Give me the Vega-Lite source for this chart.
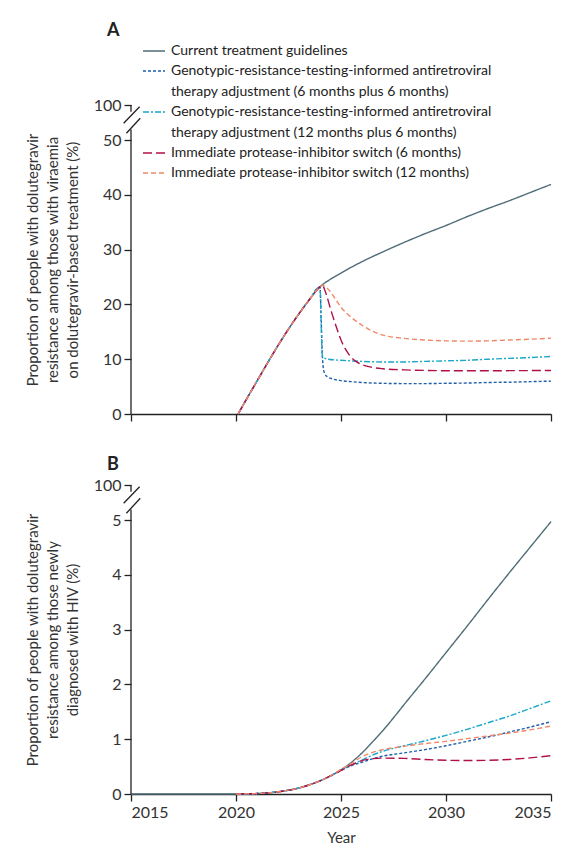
{
  "$schema": "https://vega.github.io/schema/vega-lite/v6.json",
  "padding": {"left": 25, "top": 22, "right": 5, "bottom": 5},
  "background": "white",
  "config": {
    "font": "Lato",
    "view": {"stroke": null},
    "style": {"guide-label": {"lineHeight": 21}, "guide-title": {"lineHeight": 20}},
    "axis": {"grid": false, "tickSize": 7, "tickColor": "#222", "domainColor": "#222", "tickWidth": 1.3, "domainWidth": 1.3, "labelFontSize": 16, "labelColor": "#333", "titleFontSize": 15, "titleFontWeight": "normal", "titleColor": "#333", "labelPadding": 3},
    "title": {"fontSize": 18, "fontWeight": "bold", "color": "#222", "anchor": "start", "frame": "group"}
  },
  "datasets": {
    "names": [
      {"k": "cur", "scenario": "Current treatment guidelines"},
      {"k": "g6", "scenario": "Genotypic-resistance-testing-informed antiretroviral therapy adjustment (6 months plus 6 months)"},
      {"k": "g12", "scenario": "Genotypic-resistance-testing-informed antiretroviral therapy adjustment (12 months plus 6 months)"},
      {"k": "p6", "scenario": "Immediate protease-inhibitor switch (6 months)"},
      {"k": "p12", "scenario": "Immediate protease-inhibitor switch (12 months)"}
    ],
    "a": [
      {"k":"cur","year":2020.1,"value":0},{"k":"cur","year":2020.5,"value":2.7},{"k":"cur","year":2021,"value":6.0},{"k":"cur","year":2021.5,"value":9.3},{"k":"cur","year":2022,"value":12.5},{"k":"cur","year":2022.5,"value":15.5},{"k":"cur","year":2023,"value":18.3},{"k":"cur","year":2023.5,"value":20.9},{"k":"cur","year":2024,"value":23.2},{"k":"cur","year":2024.5,"value":24.6},{"k":"cur","year":2025,"value":25.7},{"k":"cur","year":2025.5,"value":26.8},{"k":"cur","year":2026,"value":27.8},{"k":"cur","year":2027,"value":29.6},{"k":"cur","year":2028,"value":31.3},{"k":"cur","year":2029,"value":32.9},{"k":"cur","year":2030,"value":34.4},{"k":"cur","year":2031,"value":36.0},{"k":"cur","year":2032,"value":37.5},{"k":"cur","year":2033,"value":38.9},{"k":"cur","year":2034,"value":40.4},{"k":"cur","year":2035,"value":41.9},
      {"k":"g6","year":2020.1,"value":0},{"k":"g6","year":2020.5,"value":2.7},{"k":"g6","year":2021,"value":6.0},{"k":"g6","year":2021.5,"value":9.3},{"k":"g6","year":2022,"value":12.5},{"k":"g6","year":2022.5,"value":15.5},{"k":"g6","year":2023,"value":18.3},{"k":"g6","year":2023.5,"value":20.9},{"k":"g6","year":2024,"value":23.2},{"k":"g6","year":2024.05,"value":18},{"k":"g6","year":2024.12,"value":10},{"k":"g6","year":2024.2,"value":7.6},{"k":"g6","year":2024.35,"value":6.8},{"k":"g6","year":2024.6,"value":6.4},{"k":"g6","year":2025,"value":6.1},{"k":"g6","year":2025.5,"value":5.9},{"k":"g6","year":2026,"value":5.75},{"k":"g6","year":2027,"value":5.6},{"k":"g6","year":2028,"value":5.55},{"k":"g6","year":2029,"value":5.55},{"k":"g6","year":2030,"value":5.6},{"k":"g6","year":2031,"value":5.65},{"k":"g6","year":2032,"value":5.75},{"k":"g6","year":2033,"value":5.8},{"k":"g6","year":2034,"value":5.9},{"k":"g6","year":2035,"value":6.0},
      {"k":"g12","year":2020.1,"value":0},{"k":"g12","year":2020.5,"value":2.7},{"k":"g12","year":2021,"value":6.0},{"k":"g12","year":2021.5,"value":9.3},{"k":"g12","year":2022,"value":12.5},{"k":"g12","year":2022.5,"value":15.5},{"k":"g12","year":2023,"value":18.3},{"k":"g12","year":2023.5,"value":20.9},{"k":"g12","year":2024,"value":23.2},{"k":"g12","year":2024.06,"value":16},{"k":"g12","year":2024.1,"value":11},{"k":"g12","year":2024.15,"value":10.3},{"k":"g12","year":2024.4,"value":10.0},{"k":"g12","year":2025,"value":9.8},{"k":"g12","year":2026,"value":9.6},{"k":"g12","year":2027,"value":9.5},{"k":"g12","year":2028,"value":9.5},{"k":"g12","year":2029,"value":9.6},{"k":"g12","year":2030,"value":9.7},{"k":"g12","year":2031,"value":9.8},{"k":"g12","year":2032,"value":10.0},{"k":"g12","year":2033,"value":10.15},{"k":"g12","year":2034,"value":10.3},{"k":"g12","year":2035,"value":10.5},
      {"k":"p6","year":2020.1,"value":0},{"k":"p6","year":2020.5,"value":2.7},{"k":"p6","year":2021,"value":6.0},{"k":"p6","year":2021.5,"value":9.3},{"k":"p6","year":2022,"value":12.5},{"k":"p6","year":2022.5,"value":15.5},{"k":"p6","year":2023,"value":18.3},{"k":"p6","year":2023.5,"value":20.9},{"k":"p6","year":2024,"value":23.2},{"k":"p6","year":2024.1,"value":23.5},{"k":"p6","year":2024.3,"value":21.8},{"k":"p6","year":2024.5,"value":19.2},{"k":"p6","year":2024.75,"value":16.2},{"k":"p6","year":2025,"value":13.5},{"k":"p6","year":2025.25,"value":11.6},{"k":"p6","year":2025.5,"value":10.3},{"k":"p6","year":2025.75,"value":9.5},{"k":"p6","year":2026,"value":9.0},{"k":"p6","year":2026.5,"value":8.5},{"k":"p6","year":2027,"value":8.25},{"k":"p6","year":2028,"value":8.05},{"k":"p6","year":2029,"value":7.95},{"k":"p6","year":2030,"value":7.9},{"k":"p6","year":2032,"value":7.9},{"k":"p6","year":2035,"value":7.95},
      {"k":"p12","year":2020.1,"value":0},{"k":"p12","year":2020.5,"value":2.7},{"k":"p12","year":2021,"value":6.0},{"k":"p12","year":2021.5,"value":9.3},{"k":"p12","year":2022,"value":12.5},{"k":"p12","year":2022.5,"value":15.5},{"k":"p12","year":2023,"value":18.3},{"k":"p12","year":2023.5,"value":20.9},{"k":"p12","year":2024,"value":23.2},{"k":"p12","year":2024.1,"value":23.5},{"k":"p12","year":2024.3,"value":23.1},{"k":"p12","year":2024.5,"value":22.3},{"k":"p12","year":2024.75,"value":20.9},{"k":"p12","year":2025,"value":19.5},{"k":"p12","year":2025.5,"value":17.6},{"k":"p12","year":2026,"value":16.2},{"k":"p12","year":2026.5,"value":15.1},{"k":"p12","year":2027,"value":14.4},{"k":"p12","year":2028,"value":13.8},{"k":"p12","year":2029,"value":13.5},{"k":"p12","year":2030,"value":13.35},{"k":"p12","year":2031,"value":13.3},{"k":"p12","year":2032,"value":13.35},{"k":"p12","year":2033,"value":13.5},{"k":"p12","year":2034,"value":13.65},{"k":"p12","year":2035,"value":13.85}
    ],
    "b": [
      {"k":"cur","year":2015,"value":0},{"k":"cur","year":2020,"value":0},{"k":"cur","year":2020.5,"value":0.002},{"k":"cur","year":2021,"value":0.008},{"k":"cur","year":2021.5,"value":0.02},{"k":"cur","year":2022,"value":0.04},{"k":"cur","year":2022.5,"value":0.07},{"k":"cur","year":2023,"value":0.11},{"k":"cur","year":2023.5,"value":0.17},{"k":"cur","year":2024,"value":0.24},{"k":"cur","year":2024.5,"value":0.33},{"k":"cur","year":2025,"value":0.44},{"k":"cur","year":2025.5,"value":0.58},{"k":"cur","year":2026,"value":0.75},{"k":"cur","year":2026.5,"value":0.95},{"k":"cur","year":2027,"value":1.16},{"k":"cur","year":2027.5,"value":1.39},{"k":"cur","year":2028,"value":1.63},{"k":"cur","year":2029,"value":2.1},{"k":"cur","year":2030,"value":2.58},{"k":"cur","year":2031,"value":3.06},{"k":"cur","year":2032,"value":3.55},{"k":"cur","year":2033,"value":4.03},{"k":"cur","year":2034,"value":4.5},{"k":"cur","year":2035,"value":4.97},
      {"k":"g6","year":2020,"value":0},{"k":"g6","year":2021,"value":0.008},{"k":"g6","year":2022,"value":0.04},{"k":"g6","year":2023,"value":0.11},{"k":"g6","year":2024,"value":0.24},{"k":"g6","year":2024.5,"value":0.33},{"k":"g6","year":2025,"value":0.43},{"k":"g6","year":2025.5,"value":0.52},{"k":"g6","year":2026,"value":0.58},{"k":"g6","year":2026.5,"value":0.64},{"k":"g6","year":2027,"value":0.69},{"k":"g6","year":2028,"value":0.75},{"k":"g6","year":2029,"value":0.81},{"k":"g6","year":2030,"value":0.88},{"k":"g6","year":2031,"value":0.96},{"k":"g6","year":2032,"value":1.04},{"k":"g6","year":2033,"value":1.13},{"k":"g6","year":2034,"value":1.22},{"k":"g6","year":2035,"value":1.32},
      {"k":"g12","year":2020,"value":0},{"k":"g12","year":2021,"value":0.008},{"k":"g12","year":2022,"value":0.04},{"k":"g12","year":2023,"value":0.11},{"k":"g12","year":2024,"value":0.24},{"k":"g12","year":2024.5,"value":0.33},{"k":"g12","year":2025,"value":0.44},{"k":"g12","year":2025.5,"value":0.53},{"k":"g12","year":2026,"value":0.62},{"k":"g12","year":2026.5,"value":0.71},{"k":"g12","year":2027,"value":0.78},{"k":"g12","year":2028,"value":0.88},{"k":"g12","year":2029,"value":0.97},{"k":"g12","year":2030,"value":1.07},{"k":"g12","year":2031,"value":1.18},{"k":"g12","year":2032,"value":1.3},{"k":"g12","year":2033,"value":1.42},{"k":"g12","year":2034,"value":1.56},{"k":"g12","year":2035,"value":1.7},
      {"k":"p6","year":2020,"value":0},{"k":"p6","year":2021,"value":0.008},{"k":"p6","year":2022,"value":0.04},{"k":"p6","year":2023,"value":0.11},{"k":"p6","year":2024,"value":0.24},{"k":"p6","year":2024.5,"value":0.33},{"k":"p6","year":2025,"value":0.43},{"k":"p6","year":2025.5,"value":0.53},{"k":"p6","year":2026,"value":0.61},{"k":"p6","year":2026.5,"value":0.645},{"k":"p6","year":2027,"value":0.655},{"k":"p6","year":2028,"value":0.65},{"k":"p6","year":2029,"value":0.63},{"k":"p6","year":2030,"value":0.615},{"k":"p6","year":2031,"value":0.61},{"k":"p6","year":2032,"value":0.615},{"k":"p6","year":2033,"value":0.63},{"k":"p6","year":2034,"value":0.66},{"k":"p6","year":2035,"value":0.7},
      {"k":"p12","year":2020,"value":0},{"k":"p12","year":2021,"value":0.008},{"k":"p12","year":2022,"value":0.04},{"k":"p12","year":2023,"value":0.11},{"k":"p12","year":2024,"value":0.24},{"k":"p12","year":2024.5,"value":0.33},{"k":"p12","year":2025,"value":0.45},{"k":"p12","year":2025.5,"value":0.56},{"k":"p12","year":2026,"value":0.68},{"k":"p12","year":2026.5,"value":0.76},{"k":"p12","year":2027,"value":0.81},{"k":"p12","year":2028,"value":0.87},{"k":"p12","year":2029,"value":0.92},{"k":"p12","year":2030,"value":0.96},{"k":"p12","year":2031,"value":1.01},{"k":"p12","year":2032,"value":1.06},{"k":"p12","year":2033,"value":1.11},{"k":"p12","year":2034,"value":1.17},{"k":"p12","year":2035,"value":1.24}
    ],
    "brkA": [
      {"year":2015,"value":0,"year2":2015,"value2":65},
      {"year":2015,"value":100,"year2":2015,"value2":90.4},
      {"year":2014.65,"value":73.9,"year2":2015.41,"value2":97.6},
      {"year":2014.78,"value":59.6,"year2":2015.44,"value2":81}
    ],
    "brkB": [
      {"year":2015,"value":0,"year2":2015,"value2":33.5},
      {"year":2015,"value":100,"year2":2015,"value2":81.8},
      {"year":2014.65,"value":50.3,"year2":2015.41,"value2":95.4},
      {"year":2014.78,"value":23.2,"year2":2015.44,"value2":63.9}
    ]
  },
  "bounds": "flush",
  "spacing": 71,
  "resolve": {"scale": {"x": "independent", "y": "independent", "color": "independent", "strokeDash": "independent"}},
  "vconcat": [
    {
      "width": 420,
      "height": 309,
      "title": {"text": "A", "dx": -24, "offset": -1},
      "layer": [
        {
          "data": {"name": "a"},
          "transform": [{"lookup": "k", "from": {"data": {"name": "names"}, "key": "k", "fields": ["scenario"]}}],
          "mark": {"type": "line", "strokeWidth": 1.4, "interpolate": "monotone"},
          "encoding": {
            "x": {"field": "year", "type": "quantitative", "scale": {"domain": [2015, 2035], "nice": false, "zero": false}, "axis": {"values": [2015, 2020, 2025, 2030, 2035], "labels": false, "title": null}},
            "y": {"field": "value", "type": "quantitative", "scale": {"domain": [0, 50, 100], "range": [309, 35, 0], "nice": false}, "axis": {"values": [0, 10, 20, 30, 40, 50, 100], "domain": false, "title": ["Proportion of people with dolutegravir", "resistance among those with viraemia", "on dolutegravir-based treatment (%)"], "titlePadding": 13}},
            "color": {"field": "scenario", "type": "nominal", "scale": {"domain": ["Current treatment guidelines", "Genotypic-resistance-testing-informed antiretroviral therapy adjustment (6 months plus 6 months)", "Genotypic-resistance-testing-informed antiretroviral therapy adjustment (12 months plus 6 months)", "Immediate protease-inhibitor switch (6 months)", "Immediate protease-inhibitor switch (12 months)"], "range": ["#4f6d78", "#1f5ea8", "#1aa7c9", "#b0104a", "#f08868"]},
              "legend": {"orient": "none", "legendX": 11, "legendY": -66, "title": null, "symbolType": "stroke", "symbolSize": 484, "symbolStrokeWidth": 1.5, "labelFontSize": 14, "labelColor": "#222", "labelOffset": 5, "labelLimit": 500, "rowPadding": 1,
                "labelExpr": "indexof(datum.label, ' therapy') > 0 ? [slice(datum.label, 0, indexof(datum.label, ' therapy')), slice(datum.label, indexof(datum.label, ' therapy') + 1)] : datum.label",
                "encoding": {"labels": {"update": {"dy": {"signal": "indexof(datum.label, ' therapy') > 0 ? 10.5 : 0"}}}}}},
            "strokeDash": {"field": "scenario", "type": "nominal", "scale": {"domain": ["Current treatment guidelines", "Genotypic-resistance-testing-informed antiretroviral therapy adjustment (6 months plus 6 months)", "Genotypic-resistance-testing-informed antiretroviral therapy adjustment (12 months plus 6 months)", "Immediate protease-inhibitor switch (6 months)", "Immediate protease-inhibitor switch (12 months)"], "range": [[1, 0], [3, 2], [6, 2, 2, 2], [9, 4], [5, 3]]},
              "legend": {"orient": "none", "legendX": 11, "legendY": -66, "title": null, "symbolType": "stroke", "symbolSize": 484, "symbolStrokeWidth": 1.5, "labelFontSize": 14, "labelColor": "#222", "labelOffset": 5, "labelLimit": 500, "rowPadding": 1,
                "labelExpr": "indexof(datum.label, ' therapy') > 0 ? [slice(datum.label, 0, indexof(datum.label, ' therapy')), slice(datum.label, indexof(datum.label, ' therapy') + 1)] : datum.label",
                "encoding": {"labels": {"update": {"dy": {"signal": "indexof(datum.label, ' therapy') > 0 ? 10.5 : 0"}}}}}}
          }
        },
        {
          "data": {"name": "brkA"},
          "mark": {"type": "rule", "color": "#222", "strokeWidth": 1.3},
          "encoding": {
            "x": {"field": "year", "type": "quantitative"},
            "x2": {"field": "year2"},
            "y": {"field": "value", "type": "quantitative"},
            "y2": {"field": "value2"}
          }
        }
      ]
    },
    {
      "width": 420,
      "height": 309,
      "title": {"text": "B", "dx": -24, "offset": 3},
      "layer": [
        {
          "data": {"name": "b"},
          "transform": [{"lookup": "k", "from": {"data": {"name": "names"}, "key": "k", "fields": ["scenario"]}}],
          "mark": {"type": "line", "strokeWidth": 1.4, "interpolate": "monotone"},
          "encoding": {
            "x": {"field": "year", "type": "quantitative", "scale": {"domain": [2015, 2035], "nice": false, "zero": false}, "axis": {"values": [2015, 2020, 2025, 2030, 2035], "format": "d", "title": "Year", "titlePadding": 10}},
            "y": {"field": "value", "type": "quantitative", "scale": {"domain": [0, 5, 100], "range": [309, 35, 0], "nice": false}, "axis": {"values": [0, 1, 2, 3, 4, 5, 100], "domain": false, "title": ["Proportion of people with dolutegravir", "resistance among those newly", "diagnosed with HIV (%)"], "titlePadding": 13}},
            "color": {"field": "scenario", "type": "nominal", "scale": {"domain": ["Current treatment guidelines", "Genotypic-resistance-testing-informed antiretroviral therapy adjustment (6 months plus 6 months)", "Genotypic-resistance-testing-informed antiretroviral therapy adjustment (12 months plus 6 months)", "Immediate protease-inhibitor switch (6 months)", "Immediate protease-inhibitor switch (12 months)"], "range": ["#4f6d78", "#1f5ea8", "#1aa7c9", "#b0104a", "#f08868"]}, "legend": null},
            "strokeDash": {"field": "scenario", "type": "nominal", "scale": {"domain": ["Current treatment guidelines", "Genotypic-resistance-testing-informed antiretroviral therapy adjustment (6 months plus 6 months)", "Genotypic-resistance-testing-informed antiretroviral therapy adjustment (12 months plus 6 months)", "Immediate protease-inhibitor switch (6 months)", "Immediate protease-inhibitor switch (12 months)"], "range": [[1, 0], [3, 2], [6, 2, 2, 2], [9, 4], [5, 3]]}, "legend": null}
          }
        },
        {
          "data": {"name": "brkB"},
          "mark": {"type": "rule", "color": "#222", "strokeWidth": 1.3},
          "encoding": {
            "x": {"field": "year", "type": "quantitative"},
            "x2": {"field": "year2"},
            "y": {"field": "value", "type": "quantitative"},
            "y2": {"field": "value2"}
          }
        }
      ]
    }
  ]
}
